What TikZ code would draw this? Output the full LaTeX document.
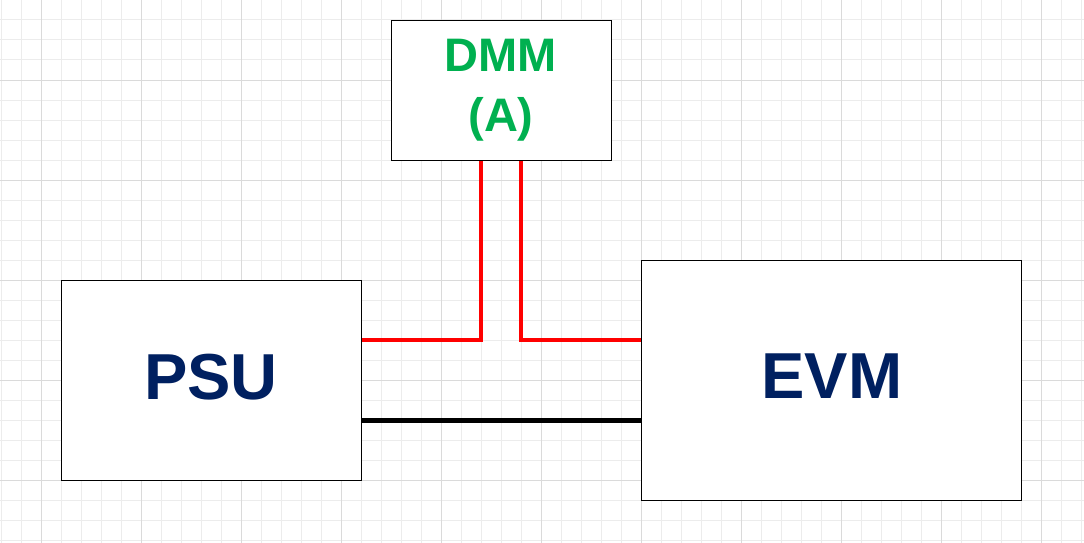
\documentclass[tikz,border=0pt]{standalone}
\usepackage{fontspec}
\setmainfont{Liberation Sans}
\definecolor{navy}{HTML}{002060}
\definecolor{dmmgreen}{HTML}{00B050}
\definecolor{gridminor}{HTML}{ECECEC}
\definecolor{gridmajor}{HTML}{DADADA}
\tikzset{
  blockbox/.style={draw=black, line width=1pt, fill=white, inner sep=0pt},
  redwire/.style={draw=red, line width=4pt},
  blackwire/.style={draw=black, line width=5pt},
}
\begin{document}
\begin{tikzpicture}[x=1pt,y=-1pt]
\useasboundingbox (0,0) rectangle (1084,543);
\fill[white] (0,0) rectangle (1084,543);
% grid
\foreach \x in {1,21,...,1081} \draw[gridminor, line width=1pt] (\x,0) -- (\x,543);
\foreach \y in {0,20,...,540} \draw[gridminor, line width=1pt] (0,\y) -- (1084,\y);
\foreach \x in {41,141,...,1041} \draw[gridmajor, line width=1pt] (\x,0) -- (\x,543);
\foreach \y in {80,180,...,480} \draw[gridmajor, line width=1pt] (0,\y) -- (1084,\y);
% boxes
\node[blockbox, minimum width=220pt, minimum height=140pt, anchor=north west] (dmm) at (391,20) {};
\node[blockbox, minimum width=300pt, minimum height=200pt, anchor=north west] (psu) at (61,280) {};
\node[blockbox, minimum width=380pt, minimum height=240pt, anchor=north west] (evm) at (641,260) {};
% labels
\node[text=dmmgreen, font=\fontsize{47}{60}\selectfont\bfseries, align=center, inner sep=0pt] (dmmlabel) at (501,90) {DMM\\(A)};
\node[text=navy, font=\fontsize{65}{70}\selectfont\bfseries, inner sep=0pt] (psulabel) at (211,377) {PSU};
\node[text=navy, font=\fontsize{65}{70}\selectfont\bfseries, inner sep=0pt] (evmlabel) at (832,376) {EVM};
% junction coordinates
\coordinate (ja) at (481,340);
\coordinate (jb) at (521,340);
% wires
\draw[redwire] (psu.east |- ja) -- (ja) -- (ja |- dmm.south);
\draw[redwire] (jb |- dmm.south) -- (jb) -- (jb -| evm.west);
\draw[blackwire] (psu.east |- 0,420) -- (evm.west |- 0,420);
\end{tikzpicture}
\end{document}
